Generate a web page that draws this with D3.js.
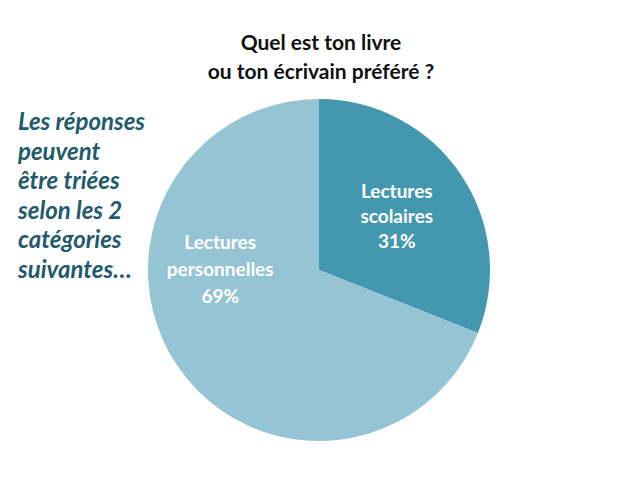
<!DOCTYPE html>
<html>
<head>
<meta charset="utf-8">
<script src="https://cdn.jsdelivr.net/npm/d3@7"></script>
<style>
  body { margin: 0; background: #fff; }
  text { font-family: Lato, "Open Sans", sans-serif; }
</style>
</head>
<body>
<script>
var width = 638,
    height = 478

var categories = ['Lectures scolaires', 'Lectures personnelles']
var labelLines = [['Lectures', 'scolaires'], ['Lectures', 'personnelles']]
var values = [31, 69]
var colors = ['#4398b0', '#95c4d5']
var titleLines = ['Quel est ton livre', 'ou ton écrivain préféré ?']
var noteLines = ['Les réponses', 'peuvent', 'être triées', 'selon les 2', 'catégories', 'suivantes…']

var cx = 319, cy = 270, r = 171

var svg = d3.select('body').append('svg')
    .attr('width', width)
    .attr('height', height)

svg.selectAll('text.title')
  .data(titleLines)
  .enter().append('text')
    .attr('class', 'title')
    .attr('x', 321)
    .attr('y', function(d, i) { return 50 + i * 29 })
    .attr('text-anchor', 'middle')
    .style('font-size', '21px')
    .style('font-weight', 'bold')
    .attr('fill', '#111')
    .text(function(d) { return d })

svg.selectAll('text.note')
  .data(noteLines)
  .enter().append('text')
    .attr('class', 'note')
    .attr('x', 18)
    .attr('y', function(d, i) { return 130 + i * 29.6 })
    .style('font-size', '24px')
    .style('font-weight', 'bold')
    .style('font-style', 'italic')
    .attr('fill', '#215a6b')
    .text(function(d) { return d })

var pie = d3.pie().sort(null)
var arc = d3.arc().innerRadius(0).outerRadius(r)
var arcs = pie(values)

var g = svg.append('g').attr('transform', 'translate(' + cx + ',' + cy + ')')

g.selectAll('path')
  .data(arcs)
  .enter().append('path')
    .attr('d', arc)
    .attr('fill', function(d, i) { return colors[i] })

var labelArc = d3.arc().innerRadius(r * 0.55).outerRadius(r * 0.55)
// nudge labels to where the reference puts them
var nudge = [[0, 0], [-21, -53]]
var lineGap = [25, 27]

arcs.forEach(function(d, i) {
  var c = labelArc.centroid(d)
  var lines = labelLines[i].concat([values[i] + '%'])
  g.append('text')
    .attr('text-anchor', 'middle')
    .attr('fill', '#fff')
    .style('font-size', '19px')
    .style('font-weight', 'bold')
    .selectAll('tspan')
    .data(lines)
    .enter().append('tspan')
      .attr('x', c[0] + nudge[i][0])
      .attr('y', function(l, j) { return c[1] + nudge[i][1] + (j - 1) * lineGap[i] + 6 })
      .text(function(l) { return l })
})
</script>
</body>
</html>
